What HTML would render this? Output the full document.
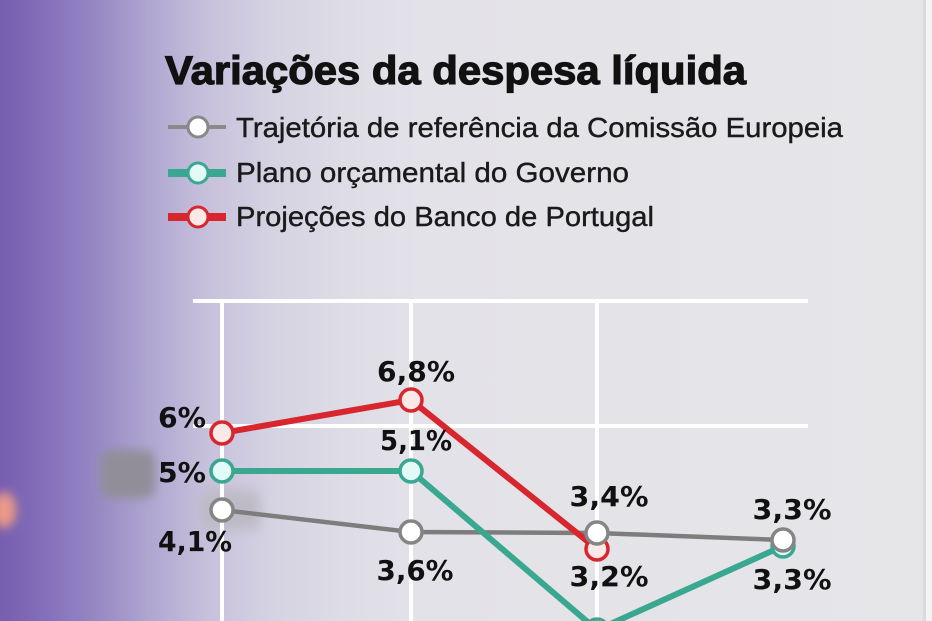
<!DOCTYPE html>
<html><head><meta charset="utf-8"><style>
html,body{margin:0;padding:0;width:932px;height:621px;overflow:hidden;background:#e6e6e9}
svg{display:block}
</style></head><body>
<svg width="932" height="621" viewBox="0 0 932 621" xmlns="http://www.w3.org/2000/svg">
<defs>
<linearGradient id="bg" x1="0" y1="0" x2="932" y2="0" gradientUnits="userSpaceOnUse">
<stop offset="0" stop-color="#775eb0"/>
<stop offset="0.05" stop-color="#8470ba"/>
<stop offset="0.11" stop-color="#998bc5"/>
<stop offset="0.16" stop-color="#afa6d1"/>
<stop offset="0.22" stop-color="#c6c0db"/>
<stop offset="0.29" stop-color="#d5d2e2"/>
<stop offset="0.37" stop-color="#dedce6"/>
<stop offset="0.45" stop-color="#e3e2e8"/>
<stop offset="1" stop-color="#e6e6e9"/>
</linearGradient>
<filter id="bl" x="-50%" y="-50%" width="200%" height="200%"><feGaussianBlur stdDeviation="6"/></filter>
<filter id="bl2" x="-50%" y="-50%" width="200%" height="200%"><feGaussianBlur stdDeviation="5"/></filter>
</defs>
<rect x="0" y="0" width="932" height="621" fill="url(#bg)"/>
<rect x="923" y="0" width="3" height="621" fill="#d9d9de"/>
<rect x="926" y="0" width="6" height="621" fill="#f4f4f5"/>

<!-- smudges -->
<rect x="100" y="450" width="55" height="48" rx="10" fill="#918e99" filter="url(#bl2)"/>
<rect x="200" y="490" width="60" height="40" rx="10" fill="#bdbac5" filter="url(#bl)"/>
<ellipse cx="4" cy="510" rx="12" ry="18" fill="#ec9a86" filter="url(#bl2)"/>

<!-- title -->
<text x="165" y="84" font-family="Liberation Sans, sans-serif" font-weight="bold" font-size="40" fill="#111" stroke="#111" stroke-width="1.2" textLength="581" lengthAdjust="spacingAndGlyphs">Variações da despesa líquida</text>

<!-- legend -->
<line x1="168" y1="127" x2="226" y2="127" stroke="#8a8a8a" stroke-width="4"/>
<circle cx="198" cy="127" r="10" fill="#fff" stroke="#888" stroke-width="3"/>
<line x1="168" y1="173" x2="226" y2="173" stroke="#3aa890" stroke-width="8"/>
<circle cx="198" cy="173" r="10" fill="#e2fbf6" stroke="#3aa890" stroke-width="3"/>
<line x1="168" y1="217" x2="226" y2="217" stroke="#d8262e" stroke-width="8"/>
<circle cx="198" cy="217" r="10" fill="#fde8e8" stroke="#d8262e" stroke-width="3"/>
<g font-family="Liberation Sans, sans-serif" font-size="28" fill="#1a1a1a" stroke="#1a1a1a" stroke-width="0.4">
<text x="236" y="137" textLength="607" lengthAdjust="spacingAndGlyphs">Trajetória de referência da Comissão Europeia</text>
<text x="236" y="182" textLength="393" lengthAdjust="spacingAndGlyphs">Plano orçamental do Governo</text>
<text x="236" y="226" textLength="418" lengthAdjust="spacingAndGlyphs">Projeções do Banco de Portugal</text>
</g>

<!-- grid -->
<g stroke="#ffffff" stroke-width="4">
<line x1="193" y1="301" x2="808" y2="301"/>
<line x1="193" y1="426" x2="808" y2="426"/>
<line x1="222" y1="299" x2="222" y2="621"/>
<line x1="411" y1="299" x2="411" y2="621"/>
<line x1="597" y1="299" x2="597" y2="621"/>
</g>

<!-- series lines -->
<polyline points="222,510 411,532 597,533 783,540" fill="none" stroke="#7d7d7d" stroke-width="4.5"/>
<polyline points="222,471 411,471 597,630 783,546" fill="none" stroke="#3aa890" stroke-width="6"/>
<polyline points="222,433 411,400 597,549" fill="none" stroke="#d8262e" stroke-width="6"/>

<!-- markers -->
<g stroke-width="3.5">
<circle cx="222" cy="471" r="11" fill="#e2fbf6" stroke="#3aa890"/>
<circle cx="411" cy="471" r="11" fill="#e2fbf6" stroke="#3aa890"/>
<circle cx="597" cy="630" r="11" fill="#e2fbf6" stroke="#3aa890"/>
<circle cx="783" cy="546" r="11" fill="#e2fbf6" stroke="#3aa890"/>
<circle cx="222" cy="433" r="11" fill="#fde8e8" stroke="#d8262e"/>
<circle cx="411" cy="400" r="11" fill="#fde8e8" stroke="#d8262e"/>
<circle cx="597" cy="549" r="11" fill="#fde8e8" stroke="#d8262e"/>
<circle cx="222" cy="510" r="11" fill="#fff" stroke="#858585"/>
<circle cx="411" cy="532" r="11" fill="#fff" stroke="#858585"/>
<circle cx="597" cy="533" r="11" fill="#fff" stroke="#858585"/>
<circle cx="783" cy="540" r="11" fill="#fff" stroke="#858585"/>
</g>

<!-- data labels -->
<g font-family="DejaVu Sans, Verdana, sans-serif" font-weight="bold" font-size="28" fill="#111" text-anchor="middle">
<text x="182" y="427" textLength="48" lengthAdjust="spacingAndGlyphs">6%</text>
<text x="182" y="482" textLength="48" lengthAdjust="spacingAndGlyphs">5%</text>
<text x="195" y="551" textLength="74" lengthAdjust="spacingAndGlyphs">4,1%</text>
<text x="416" y="381" textLength="78" lengthAdjust="spacingAndGlyphs">6,8%</text>
<text x="416" y="450" textLength="72" lengthAdjust="spacingAndGlyphs">5,1%</text>
<text x="415" y="580" textLength="77" lengthAdjust="spacingAndGlyphs">3,6%</text>
<text x="609" y="506" textLength="79" lengthAdjust="spacingAndGlyphs">3,4%</text>
<text x="609" y="586" textLength="79" lengthAdjust="spacingAndGlyphs">3,2%</text>
<text x="792" y="519" textLength="79" lengthAdjust="spacingAndGlyphs">3,3%</text>
<text x="792" y="589" textLength="79" lengthAdjust="spacingAndGlyphs">3,3%</text>
</g>
</svg>
</body></html>
